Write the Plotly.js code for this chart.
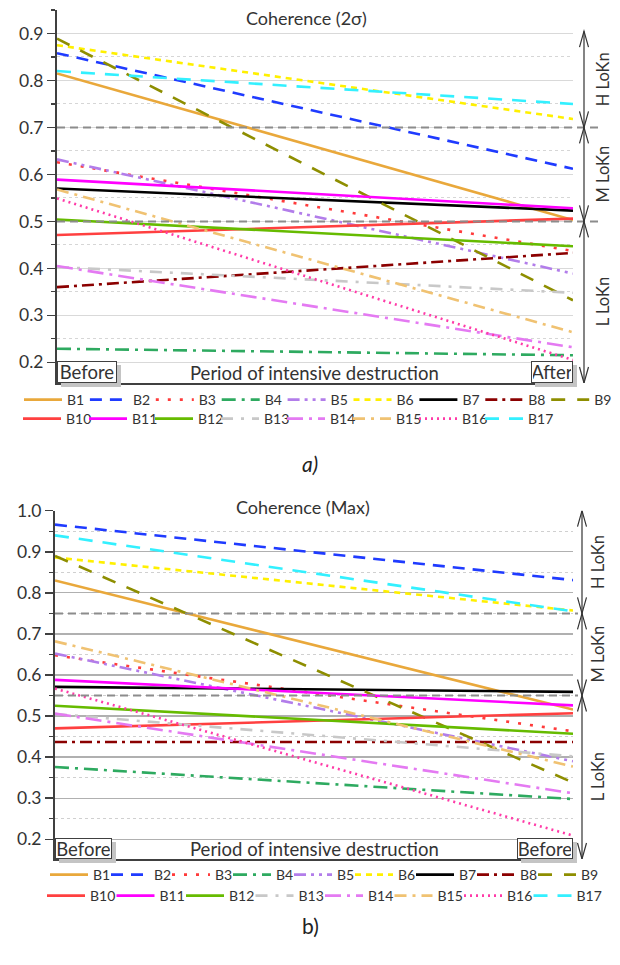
<!DOCTYPE html>
<html>
<head>
<meta charset="utf-8">
<script src="https://cdn.plot.ly/plotly-3.0.1.min.js"></script>
<style>html,body{margin:0;padding:0;background:#fff;}#chart{width:620px;height:965px;}</style>
</head>
<body>
<div id="chart"></div>
<script>
// ---------------- DATA ----------------
const categories = ['Before', 'After'];
const seriesNames = ['B1','B2','B3','B4','B5','B6','B7','B8','B9','B10','B11','B12','B13','B14','B15','B16','B17'];
// Coherence (2σ)
const coh2sBefore = [0.815, 0.858, 0.626, 0.229, 0.632, 0.875, 0.570, 0.360, 0.889, 0.471, 0.589, 0.504, 0.403, 0.405, 0.568, 0.549, 0.820];
const coh2sAfter  = [0.503, 0.612, 0.437, 0.215, 0.389, 0.718, 0.523, 0.433, 0.332, 0.506, 0.528, 0.447, 0.348, 0.232, 0.264, 0.205, 0.750];
// Coherence (Max)
const cohMaxBefore = [0.830, 0.966, 0.648, 0.376, 0.652, 0.886, 0.571, 0.437, 0.890, 0.470, 0.588, 0.525, 0.505, 0.506, 0.682, 0.567, 0.940];
const cohMaxAfter  = [0.516, 0.831, 0.463, 0.298, 0.390, 0.757, 0.559, 0.437, 0.338, 0.507, 0.526, 0.457, 0.402, 0.312, 0.377, 0.209, 0.755];
// thresholds (LoKn levels)
const thresholds2s = [0.7, 0.5];
const thresholdsMax = [0.75, 0.55];
const levelLabels = ['H LoKn', 'M LoKn', 'L LoKn'];
const xLabelsA = ['Before', 'Period of intensive destruction', 'After'];
const xLabelsB = ['Before', 'Period of intensive destruction', 'Before'];
const titleA = 'Coherence (2σ)';
const titleB = 'Coherence (Max)';

// ---------------- STYLE ----------------
const colors = ['#E9A83B','#1F3BFF','#FF3B3B','#2EAA60','#B27DEA','#FFF000','#000000','#8B0000','#8E8E00',
                '#FF4040','#FF00FF','#66BB00','#C8C8C8','#E47AF2','#F0C272','#FF3BA8','#33F0FF'];
const dashes = ['solid','12px,8px','3px,9px','14px,6px,3px,6px','12px,5px,3px,5px,3px,5px','6px,5px','solid',
                '12px,5px,3px,5px','14px,12px','solid','solid','solid','12px,8px,3px,8px','16px,6px,3px,6px',
                '12px,6px,3px,6px','2px,4px','14px,10px'];

const W = 620, H = 965;
const px = v => v / W;
const py = v => 1 - v / H;
const FONT = 'Lato, "Liberation Sans", sans-serif';
const TXT = '#333333';

// chart geometry (pixels)
const A = {l: 57, r: 573, t: 10, b: 383, yr: [0.156, 0.95]};
const B = {l: 55, r: 573, t: 510.7, b: 859, yr: [0.152, 1.0]};

const lastWidth = {8: 20, 16: 26};
const xIdx = categories.map((c, i) => i);
const traces = [];
seriesNames.forEach((n, i) => {
  traces.push({x: xIdx, y: [coh2sBefore[i], coh2sAfter[i]], name: n, mode: 'lines', xaxis: 'x', yaxis: 'y',
    legend: i < 9 ? 'legend' : 'legend2', legendwidth: lastWidth[i],
    line: {color: colors[i], width: 2.6, dash: dashes[i]}, hoverinfo: 'skip'});
});
seriesNames.forEach((n, i) => {
  traces.push({x: xIdx, y: [cohMaxBefore[i], cohMaxAfter[i]], name: n, mode: 'lines', xaxis: 'x2', yaxis: 'y2',
    legend: i < 9 ? 'legend3' : 'legend4', legendwidth: lastWidth[i],
    line: {color: colors[i], width: 2.6, dash: dashes[i]}, hoverinfo: 'skip'});
});

function yaxisDef(G, grid, minorGrid) {
  return {
    domain: [py(G.b), py(G.t)], range: G.yr, dtick: 0.1, tick0: 0, tickformat: '.1f',
    ticks: 'outside', ticklen: 8, tickwidth: 1.5, tickcolor: '#404040',
    showline: true, linecolor: '#404040', linewidth: 2,
    showgrid: true, gridcolor: grid, gridwidth: 1.3, zeroline: false,
    tickfont: {size: 17.5, color: TXT, family: FONT},
    minor: {dtick: 0.05, ticks: 'outside', ticklen: 4, tickwidth: 1.2, tickcolor: '#404040',
            showgrid: true, griddash: 'dot', gridcolor: minorGrid, gridwidth: 1},
    fixedrange: true
  };
}
function xaxisDef(G, anchor) {
  return {domain: [px(G.l), px(G.r)], range: [0, categories.length - 1], showticklabels: false, ticks: '',
    showgrid: false, zeroline: false, showline: true, linecolor: '#404040', linewidth: 1.5, anchor: anchor, fixedrange: true};
}

const shapes = [];
const annotations = [];

function decorate(G, yref, thr, xLabels, title, titleX, titleY, arrowX, labelX, arrowTop, pxPerUnit, tline) {
  // threshold dashed lines
  thr.forEach(t => shapes.push({type: 'line', xref: 'paper', yref: yref, x0: px(G.l), x1: px(tline), y0: t, y1: t,
    line: {color: '#8c8c8c', width: 2, dash: '8px,5px'}, layer: 'above'}));
  // arrows
  const segs = [[arrowTop, thr[0]], [thr[0], thr[1]], [thr[1], G.yr[0]]];
  const dy = 16 / pxPerUnit, dx = px(4.5), ax = px(arrowX);
  segs.forEach((s, k) => {
    shapes.push({type: 'line', xref: 'paper', yref: yref, x0: ax, x1: ax, y0: s[0], y1: s[1], line: {color: '#333', width: 1.2}});
    shapes.push({type: 'path', xref: 'paper', yref: yref,
      path: `M${ax - dx},${s[0] - dy} L${ax},${s[0]} L${ax + dx},${s[0] - dy}`, line: {color: '#333', width: 1.2}});
    shapes.push({type: 'path', xref: 'paper', yref: yref,
      path: `M${ax - dx},${s[1] + dy} L${ax},${s[1]} L${ax + dx},${s[1] + dy}`, line: {color: '#333', width: 1.2}});
    annotations.push({xref: 'paper', yref: yref, x: px(labelX), y: (s[0] + s[1]) / 2, text: levelLabels[k],
      textangle: -90, showarrow: false, font: {size: 16.5, color: TXT, family: FONT}, xanchor: 'center', yanchor: 'middle'});
  });
  // title
  annotations.push({xref: 'paper', yref: 'paper', x: px(titleX), y: py(titleY), text: title, showarrow: false,
    font: {size: 18, color: TXT, family: FONT}, xanchor: 'center', yanchor: 'middle'});
  // period label
  annotations.push({xref: 'paper', yref: 'paper', x: px(314), y: py(G.b - 10), text: xLabels[1], showarrow: false,
    font: {size: 18.5, color: TXT, family: FONT}, xanchor: 'center', yanchor: 'middle'});
}

function box(text, left, right, top, bottom) {
  shapes.push({type: 'rect', xref: 'paper', yref: 'paper', x0: px(left + 4), x1: px(right + 4), y0: py(bottom + 4), y1: py(top + 4),
    fillcolor: '#c4c4c4', line: {width: 0}, layer: 'above'});
  annotations.push({xref: 'paper', yref: 'paper', x: px(left), y: py(bottom), xanchor: 'left', yanchor: 'bottom',
    text: text, showarrow: false, bgcolor: '#ffffff', bordercolor: '#404040', borderwidth: 1, borderpad: 1,
    width: right - left - 4, height: bottom - top - 4, align: 'center', font: {size: 18.5, color: TXT, family: FONT}});
}

decorate(A, 'y', thresholds2s, xLabelsA, titleA, 306, 18, 584, 603, 0.905, 469.8, 603);
decorate(B, 'y2', thresholdsMax, xLabelsB, titleB, 303, 507, 582, 598, 1.0, 410.7, 578);
box(xLabelsA[0], 57, 117, 361, 383);
box(xLabelsA[2], 531, 573, 361, 383);
box(xLabelsB[0], 55, 112, 838, 859);
box(xLabelsB[2], 517, 573, 838, 859);

annotations.push({xref: 'paper', yref: 'paper', x: px(310), y: py(463), text: '<i>a)</i>', showarrow: false,
  font: {size: 21, color: '#222', family: FONT}});
annotations.push({xref: 'paper', yref: 'paper', x: px(310), y: py(940), text: 'b)', showarrow: false,
  font: {size: 21, color: '#222', family: FONT}});

function legendDef(lineStart, yc, spacing) {
  return {orientation: 'h', x: px(lineStart - 5), xanchor: 'left', y: py(yc), yanchor: 'middle',
    itemwidth: 38, entrywidth: spacing - 53, font: {size: 14, color: TXT, family: FONT},
    bgcolor: 'rgba(0,0,0,0)', borderwidth: 0, traceorder: 'normal', itemclick: false, itemdoubleclick: false};
}

const layout = {
  width: W, height: H, margin: {l: 0, r: 0, t: 0, b: 0},
  paper_bgcolor: '#ffffff', plot_bgcolor: 'rgba(0,0,0,0)',
  font: {family: FONT, color: TXT},
  showlegend: true,
  xaxis: xaxisDef(A, 'y'), yaxis: yaxisDef(A, '#d9d9d9', '#d6d6d6'),
  xaxis2: xaxisDef(B, 'y2'), yaxis2: yaxisDef(B, '#b0b0b0', '#d0d0d0'),
  legend: legendDef(27, 400, 65.9),
  legend2: legendDef(23, 419, 66),
  legend3: legendDef(50, 875, 61),
  legend4: legendDef(47, 896, 69.5),
  shapes: shapes, annotations: annotations
};
layout.yaxis2.anchor = 'x2';
layout.yaxis.anchor = 'x';

Plotly.newPlot('chart', traces, layout, {displayModeBar: false, staticPlot: true});
</script>
</body>
</html>
